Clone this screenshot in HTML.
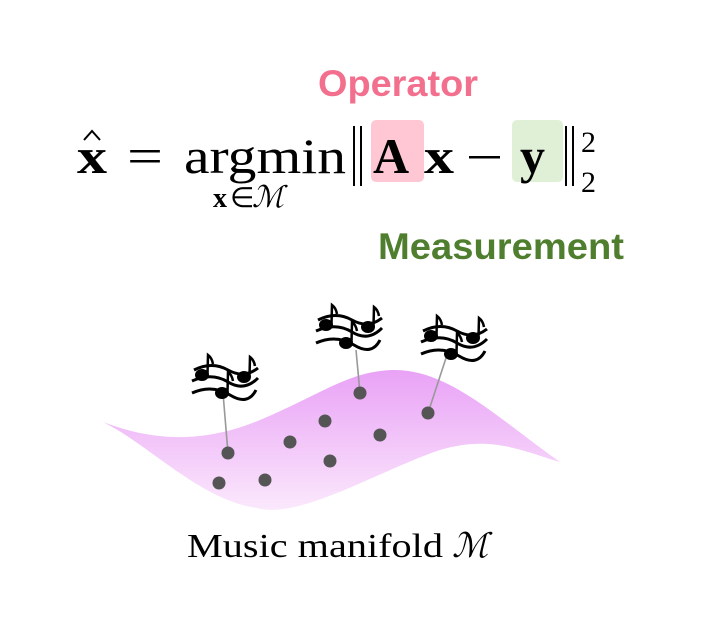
<!DOCTYPE html>
<html><head><meta charset="utf-8"><style>
html,body{margin:0;padding:0;background:#fff;}
svg{display:block;}
</style></head><body>
<svg width="701" height="632" viewBox="0 0 701 632" xmlns="http://www.w3.org/2000/svg">
<defs>
<linearGradient id="mg" x1="0" y1="0" x2="0" y2="1">
<stop offset="0" stop-color="#e9a2f6"/>
<stop offset="1" stop-color="#fbe8fc"/>
</linearGradient>
<g id="notes">
<path d="M2 15 Q20 6 36 15 T66 13" fill="none" stroke="#000" stroke-width="3"/>
<path d="M0 26 Q20 17 36 27 T66 23" fill="none" stroke="#000" stroke-width="3"/>
<path d="M0 38 Q20 29 38 40 T64 35" fill="none" stroke="#000" stroke-width="3"/>
<ellipse cx="10" cy="20" rx="7" ry="6" fill="#000"/>
<path d="M15.5 19 L16 0 Q20 3 21 9" fill="none" stroke="#000" stroke-width="2.5"/>
<ellipse cx="52" cy="22" rx="7" ry="6" fill="#000"/>
<path d="M57.5 21 L58 2 Q62 5 63 11" fill="none" stroke="#000" stroke-width="2.5"/>
<ellipse cx="30" cy="38" rx="7" ry="6" fill="#000"/>
<path d="M35.5 37 L36 17 Q40 20 41 26" fill="none" stroke="#000" stroke-width="2.5"/>
</g>
</defs>

<rect x="371" y="120" width="53" height="62" rx="5" fill="#ffc7d3"/>
<rect x="512" y="120" width="51" height="62" rx="5" fill="#dff0d6"/>

<text x="318" y="96" font-family="Liberation Sans, sans-serif" font-weight="bold" font-size="37" fill="#f2708e" textLength="160" lengthAdjust="spacingAndGlyphs">Operator</text>
<text x="378" y="259" font-family="Liberation Sans, sans-serif" font-weight="bold" font-size="37" fill="#4f7f2e" textLength="246" lengthAdjust="spacingAndGlyphs">Measurement</text>

<g font-family="Liberation Serif, serif" fill="#000">
<text x="77" y="173" font-size="50" font-weight="bold" textLength="30" lengthAdjust="spacingAndGlyphs">x</text>
<path d="M84 140 L92 131 L100 140" fill="none" stroke="#000" stroke-width="2"/>
<text x="127" y="173" font-size="50" textLength="36" lengthAdjust="spacingAndGlyphs">=</text>
<text x="184" y="173" font-size="50" textLength="162" lengthAdjust="spacingAndGlyphs">argmin</text>
<text x="213" y="207" font-size="28" font-weight="bold">x</text>
<text x="230" y="207" font-size="28">∈</text>
<text x="252" y="207" font-size="30" font-style="italic">ℳ</text>
<rect x="353" y="126" width="2" height="60"/>
<rect x="360" y="126" width="2" height="60"/>
<text x="373" y="173" font-size="50" font-weight="bold">A</text>
<text x="424" y="173" font-size="50" font-weight="bold" textLength="30" lengthAdjust="spacingAndGlyphs">x</text>
<rect x="469" y="156" width="31" height="2.5"/>
<text x="520" y="173" font-size="50" font-weight="bold">y</text>
<rect x="565" y="126" width="2" height="60"/>
<rect x="572" y="126" width="2" height="60"/>
<text x="581" y="152" font-size="30">2</text>
<text x="581" y="192" font-size="30">2</text>
</g>

<path d="M103 422 C150 440 200 445 260 420 C320 395 350 370 395 370 C450 370 500 420 560 462 C520 450 490 435 440 450 C380 470 300 520 257 508 C200 500 150 445 103 422 Z" fill="url(#mg)"/>

<g stroke="#999" stroke-width="1.6">
<line x1="228" y1="453" x2="223" y2="393"/>
<line x1="360" y1="393" x2="356" y2="350"/>
<line x1="428" y1="413" x2="447" y2="355"/>
</g>
<g fill="#555">
<circle cx="228" cy="453" r="6.5"/>
<circle cx="219" cy="483" r="6.5"/>
<circle cx="265" cy="480" r="6.5"/>
<circle cx="290" cy="442" r="6.5"/>
<circle cx="325" cy="421" r="6.5"/>
<circle cx="330" cy="461" r="6.5"/>
<circle cx="360" cy="393" r="6.5"/>
<circle cx="380" cy="435" r="6.5"/>
<circle cx="428" cy="413" r="6.5"/>
</g>

<use href="#notes" x="192" y="355"/>
<use href="#notes" x="316" y="305"/>
<use href="#notes" x="421" y="316"/>

<text x="187" y="557" font-family="Liberation Serif, serif" font-size="34" fill="#000" textLength="256" lengthAdjust="spacingAndGlyphs">Music manifold</text>
<text x="452" y="557" font-family="Liberation Serif, serif" font-size="34" font-style="italic" fill="#000">ℳ</text>
</svg>
</body></html>
